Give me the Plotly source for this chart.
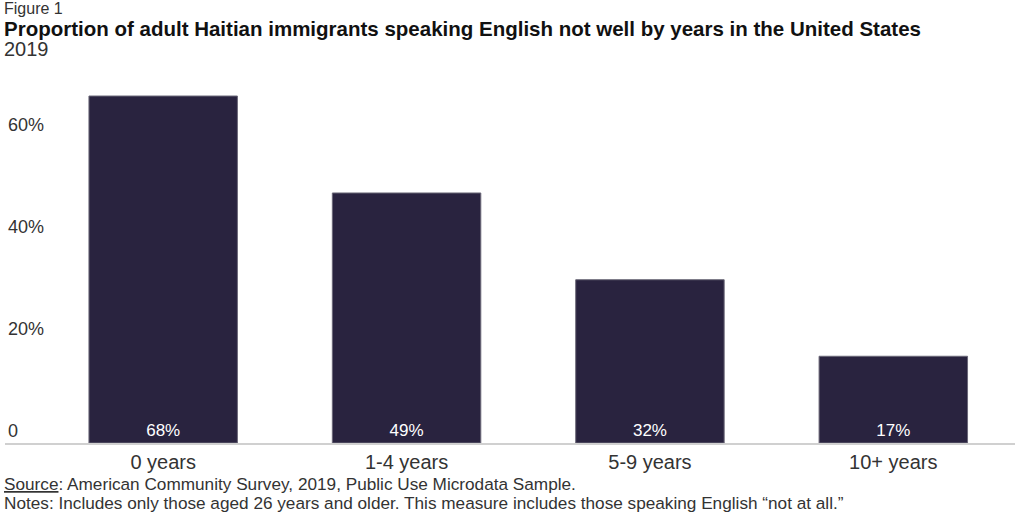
import plotly.graph_objects as go

# data
categories = ["0 years", "1-4 years", "5-9 years", "10+ years"]
shares = [68, 49, 32, 17]
tick_vals = [0, 20, 40, 60]
tick_text = ["0", "20%", "40%", "60%"]

bar_color = "#29233f"
text_color = "#333333"

fig = go.Figure()
fig.add_trace(go.Bar(
    x=categories, y=shares,
    marker=dict(color=bar_color, line=dict(color="#6b6878", width=1)),
    width=0.61,
    text=[f"{v}%" for v in shares],
    textposition="inside", insidetextanchor="start",
    textfont=dict(family="Liberation Sans", size=17, color="white"),
    hoverinfo="skip",
))

fig.update_layout(
    width=1024, height=512,
    margin=dict(l=5, r=9, t=70, b=69),
    plot_bgcolor="white", paper_bgcolor="white",
    showlegend=False,
    font=dict(family="Liberation Sans", color=text_color),
)
fig.update_xaxes(
    range=[-0.65, 3.5], showgrid=False, showline=True, linecolor="#d0d0d0", linewidth=2,
    ticks="", tickfont=dict(size=20, color=text_color),
)
fig.update_yaxes(
    range=[0, 73.1], tickvals=tick_vals, ticktext=tick_text, showgrid=False,
    zeroline=False, ticklabelposition="inside top",
    tickfont=dict(size=18, color=text_color),
)

# titles and notes
def note(txt, y, size, bold=False):
    if bold:
        txt = "<b>" + txt + "</b>"
    fig.add_annotation(text=txt, xref="paper", yref="paper", x=-0.003, y=y,
                       xanchor="left", yanchor="middle", showarrow=False,
                       font=dict(size=size, color="#111111" if bold else text_color))

note("Figure 1", 1.166, 16)
note("Proportion of adult Haitian immigrants speaking English not well by years in the United States", 1.110, 20.5, bold=True)
note("2019", 1.056, 20)
note("<u>Source</u>: American Community Survey, 2019, Public Use Microdata Sample.", -0.110, 17.2)
note("Notes: Includes only those aged 26 years and older. This measure includes those speaking English \u201cnot at all.\u201d", -0.161, 17.2)

fig.write_html("out.html", config={"displayModeBar": False},
               post_script="document.body.style.margin='0';")
